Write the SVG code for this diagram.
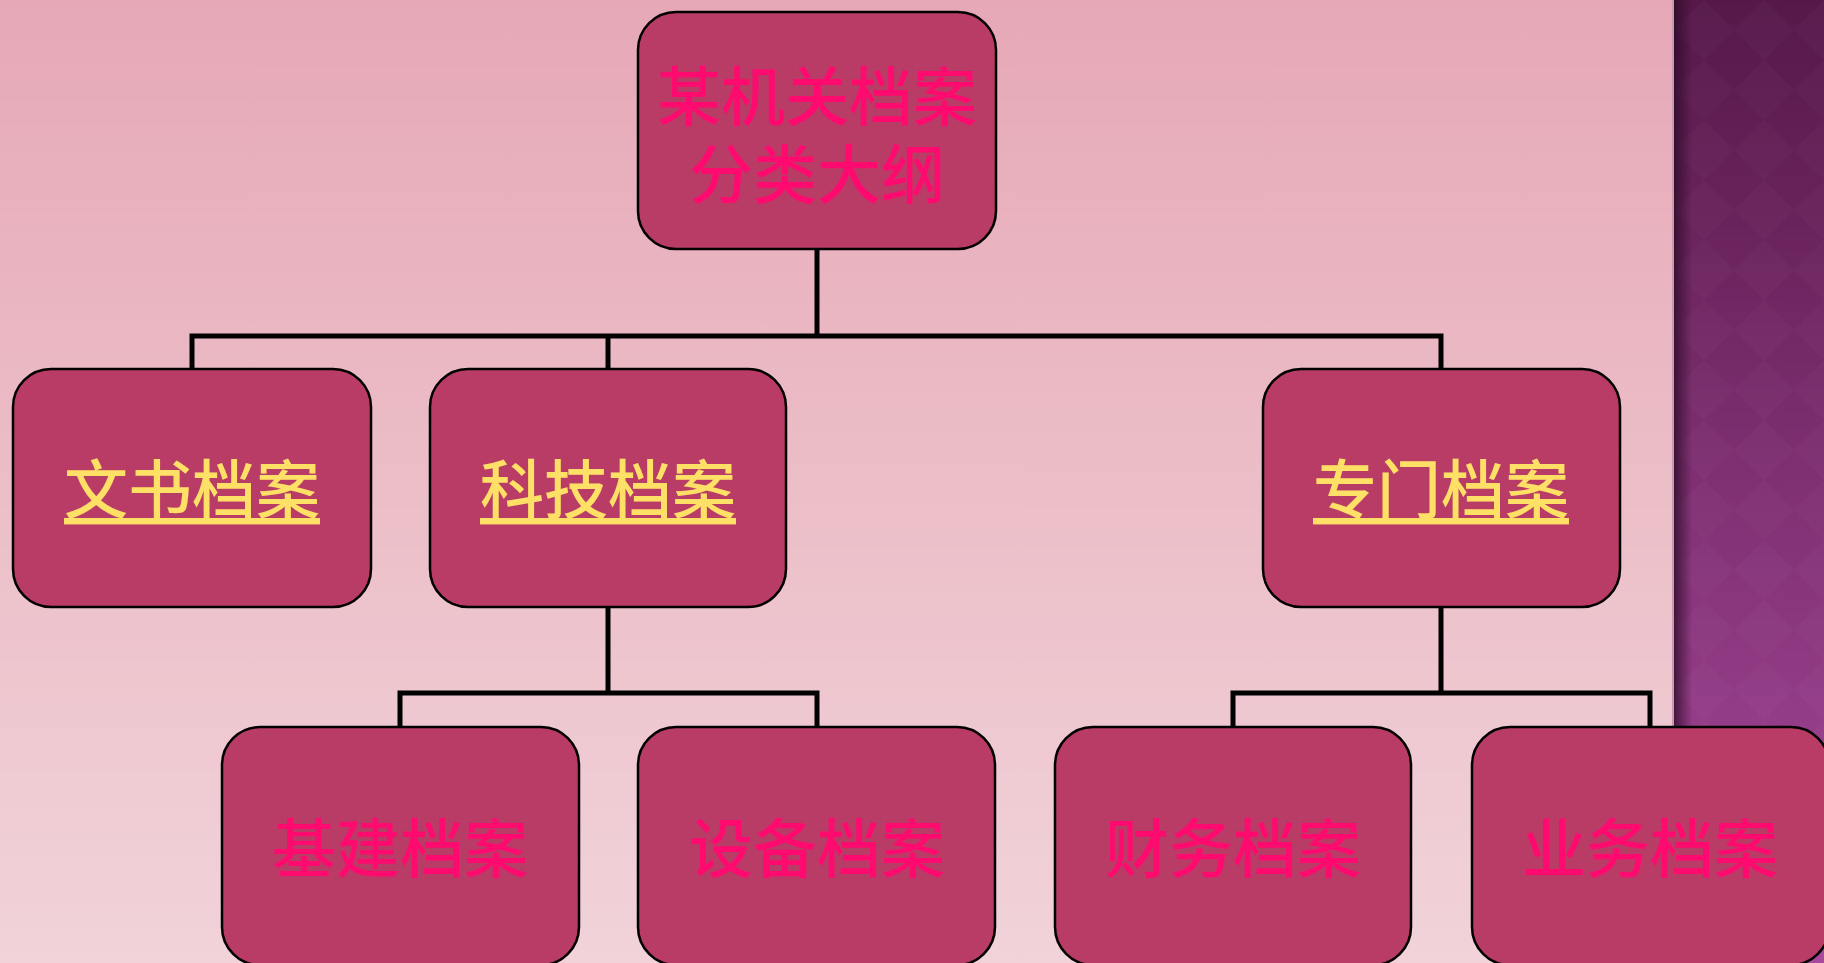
<svg xmlns="http://www.w3.org/2000/svg" width="1824" height="963" viewBox="0 0 1824 963">
<style>
.box{fill:#b93c67;stroke:#000;stroke-width:2.5}
.t{font-family:"Noto Sans CJK SC","Noto Sans CJK JP",sans-serif;font-size:64px;font-weight:500;text-anchor:middle;dominant-baseline:central}
.pink{fill:#ff0a6e}
.yel{fill:#ffe066;text-decoration:underline}
.c{fill:none;stroke:#000;stroke-width:5;stroke-linejoin:miter}
</style>
<defs>
<linearGradient id="bg" x1="0" y1="0" x2="0" y2="1">
<stop offset="0" stop-color="#e6a8b6"/>
<stop offset="1" stop-color="#f1d3d9"/>
</linearGradient>
<linearGradient id="pp" x1="0" y1="0" x2="0" y2="1">
<stop offset="0" stop-color="#561849"/>
<stop offset="1" stop-color="#a8489c"/>
</linearGradient>
<linearGradient id="sh" x1="0" y1="0" x2="1" y2="0">
<stop offset="0" stop-color="#2a0a25" stop-opacity="0.75"/>
<stop offset="1" stop-color="#2a0a25" stop-opacity="0"/>
</linearGradient>
<pattern id="dia" width="60" height="60" patternUnits="userSpaceOnUse" x="1674">
<path d="M30 0 L60 30 L30 60 L0 30 Z" fill="#ffffff" fill-opacity="0.018"/>
</pattern>
</defs>
<rect width="1824" height="963" fill="url(#bg)"/>
<rect x="1674" y="0" width="150" height="963" fill="url(#pp)"/>
<rect x="1674" y="0" width="150" height="963" fill="url(#dia)"/>
<rect x="1674" y="0" width="18" height="963" fill="url(#sh)"/>
<rect x="1672" y="0" width="2" height="963" fill="#c79aac"/>
<g id="connectors">
<path class="c" d="M817 249 V336 M192 369 V336 H1441 V369 M608 336 V369"/>
<path class="c" d="M608 607 V693 M400 727 V693 H817 V727"/>
<path class="c" d="M1441 607 V693 M1233 727 V693 H1650 V727"/>
</g>
<g id="n-root">
<rect class="box" x="638" y="12" width="358" height="237" rx="38"/>
<text class="t pink" x="817" y="92"><tspan x="817" y="92">某机关档案</tspan><tspan x="817" y="170">分类大纲</tspan></text>
</g>
<g id="n-wenshu">
<rect class="box" x="13" y="369" width="358" height="238" rx="38"/>
<text class="t yel" x="192" y="485">文书档案</text>
</g>
<g id="n-keji">
<rect class="box" x="430" y="369" width="356" height="238" rx="38"/>
<text class="t yel" x="608" y="485">科技档案</text>
</g>
<g id="n-zhuanmen">
<rect class="box" x="1263" y="369" width="357" height="238" rx="38"/>
<text class="t yel" x="1441" y="485">专门档案</text>
</g>
<g id="n-jijian">
<rect class="box" x="222" y="727" width="357" height="238" rx="38"/>
<text class="t pink" x="400" y="844">基建档案</text>
</g>
<g id="n-shebei">
<rect class="box" x="638" y="727" width="357" height="238" rx="38"/>
<text class="t pink" x="817" y="844">设备档案</text>
</g>
<g id="n-caiwu">
<rect class="box" x="1055" y="727" width="356" height="238" rx="38"/>
<text class="t pink" x="1233" y="844">财务档案</text>
</g>
<g id="n-yewu">
<rect class="box" x="1472" y="727" width="357" height="238" rx="38"/>
<text class="t pink" x="1650" y="844">业务档案</text>
</g>
</svg>
